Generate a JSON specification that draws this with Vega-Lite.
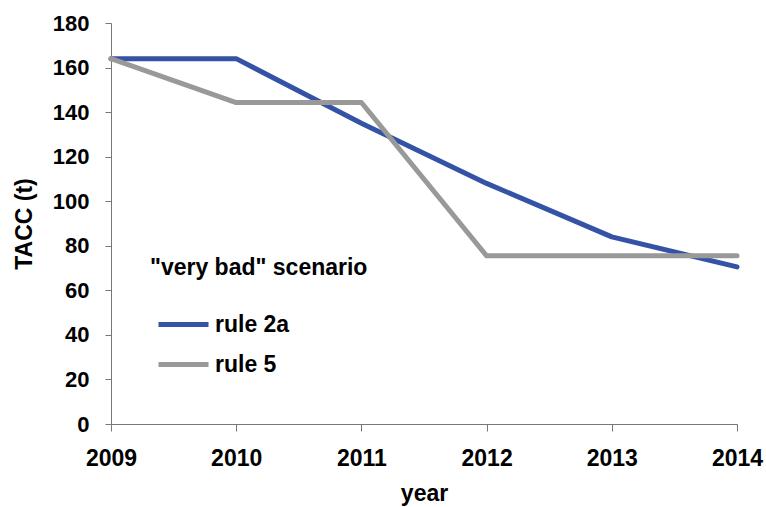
{
  "$schema": "https://vega.github.io/schema/vega-lite/v6.json",
  "width": 626,
  "height": 401,
  "autosize": {"type": "none"},
  "padding": {"left": 111, "top": 23, "right": 29, "bottom": 83},
  "background": "white",
  "config": {
    "view": {"stroke": null},
    "font": "Liberation Sans"
  },
  "data": {
    "values": [
      {"year": 2009, "tacc": 164, "rule": "rule 2a"},
      {"year": 2010, "tacc": 164, "rule": "rule 2a"},
      {"year": 2011, "tacc": 135, "rule": "rule 2a"},
      {"year": 2012, "tacc": 108, "rule": "rule 2a"},
      {"year": 2013, "tacc": 84, "rule": "rule 2a"},
      {"year": 2014, "tacc": 70.5, "rule": "rule 2a"},
      {"year": 2009, "tacc": 164, "rule": "rule 5"},
      {"year": 2010, "tacc": 144.3, "rule": "rule 5"},
      {"year": 2011, "tacc": 144.3, "rule": "rule 5"},
      {"year": 2012, "tacc": 75.5, "rule": "rule 5"},
      {"year": 2013, "tacc": 75.5, "rule": "rule 5"},
      {"year": 2014, "tacc": 75.5, "rule": "rule 5"}
    ]
  },
  "mark": {"type": "line", "strokeWidth": 5, "strokeCap": "round", "strokeJoin": "round"},
  "encoding": {
    "x": {
      "field": "year", "type": "quantitative",
      "scale": {"domain": [2009, 2014], "nice": false, "zero": false},
      "axis": {
        "title": "year", "values": [2009, 2010, 2011, 2012, 2013, 2014], "format": "d",
        "grid": false, "domainColor": "#777777", "tickColor": "#777777", "tickSize": 7,
        "labelFont": "Liberation Sans", "labelFontWeight": "bold", "labelFontSize": 23, "labelColor": "black",
        "labelPadding": 16, "labelFlush": false,
        "titleFont": "Liberation Sans", "titleFontWeight": "bold", "titleFontSize": 23, "titleColor": "black",
        "titlePadding": 12
      }
    },
    "y": {
      "field": "tacc", "type": "quantitative",
      "scale": {"domain": [0, 180], "nice": false},
      "axis": {
        "title": "TACC (t)", "values": [0, 20, 40, 60, 80, 100, 120, 140, 160, 180],
        "grid": false, "domainColor": "#777777", "tickColor": "#777777", "tickSize": 6,
        "labelFont": "Liberation Sans", "labelFontWeight": "bold", "labelFontSize": 22, "labelColor": "black",
        "labelPadding": 16,
        "titleFont": "Liberation Sans", "titleFontWeight": "bold", "titleFontSize": 23, "titleColor": "black",
        "titlePadding": 16
      }
    },
    "color": {
      "field": "rule", "type": "nominal",
      "scale": {"domain": ["rule 2a", "rule 5"], "range": ["#3553a6", "#999999"]},
      "legend": {
        "title": "\"very bad\" scenario",
        "orient": "none", "legendX": 39, "legendY": 234,
        "titleFont": "Liberation Sans", "titleFontWeight": "bold", "titleFontSize": 23, "titleColor": "black",
        "titlePadding": 17, "titleLimit": 500,
        "labelFont": "Liberation Sans", "labelFontWeight": "bold", "labelFontSize": 23, "labelColor": "black",
        "symbolType": "stroke", "symbolSize": 2500, "symbolStrokeWidth": 5,
        "labelOffset": 4, "rowPadding": -2, "symbolOffset": 6
      }
    }
  }
}
